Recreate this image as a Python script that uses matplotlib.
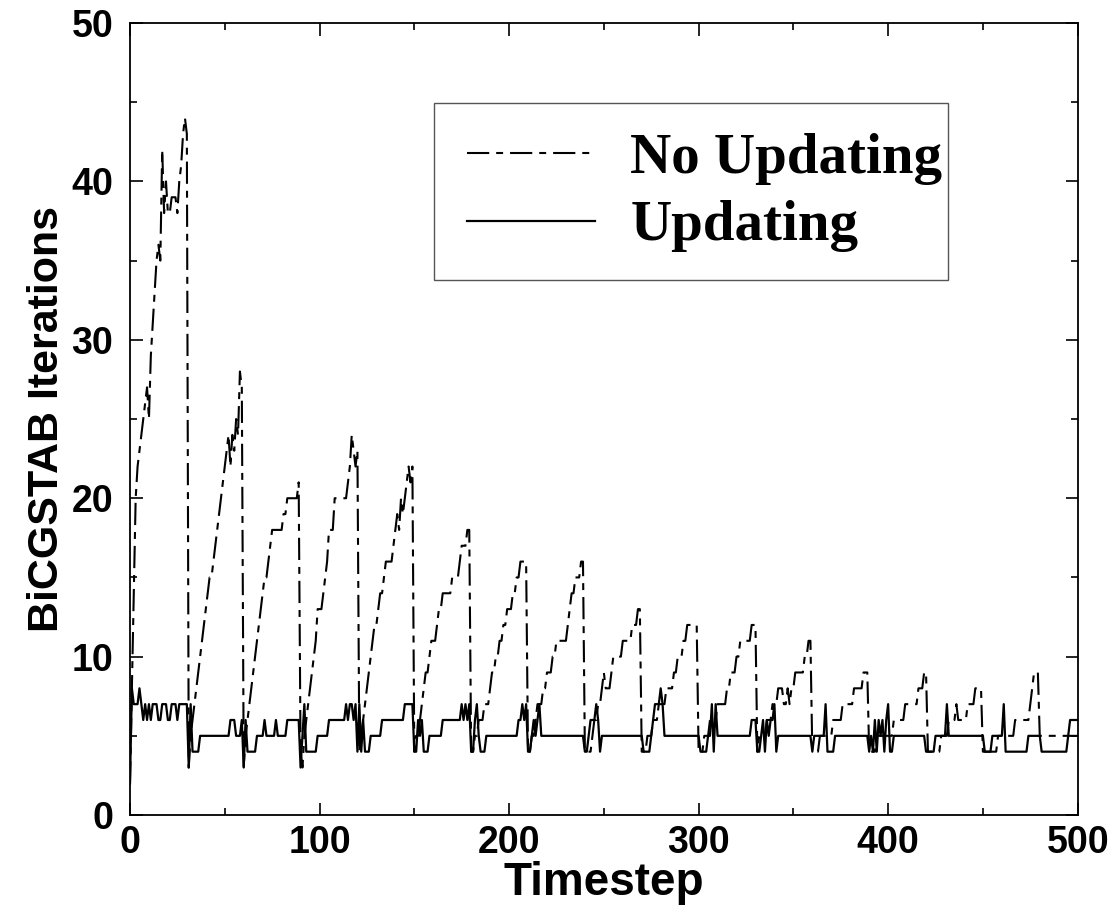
import numpy as np
import matplotlib
matplotlib.use('Agg')
import matplotlib.pyplot as plt
from matplotlib.patches import Rectangle

# BiCGSTAB iterations per timestep (t = 0..500)
no_updating = [
    2, 8, 14, 20, 22, 23, 24, 25, 26, 27, 25, 29, 31, 33, 35, 36, 35, 42, 38, 40, 38, 38, 39, 39, 39, 38, 40, 41, 43, 44,
    43, 3, 5, 6, 7, 8, 9, 10, 11, 12, 13, 14, 15, 15, 16, 17, 18, 19, 20, 21, 22, 23, 24, 22, 24, 23, 25, 24, 28, 27,
    3, 5, 6, 7, 8, 9, 10, 11, 12, 13, 14, 15, 15, 16, 17, 18, 18, 18, 18, 18, 18, 19, 19, 20, 20, 20, 20, 20, 20, 21,
    4, 3, 5, 6, 7, 8, 9, 10, 11, 13, 13, 13, 14, 15, 16, 18, 18, 18, 20, 20, 20, 20, 20, 20, 20, 21, 22, 24, 23, 22,
    23, 4, 5, 6, 7, 8, 9, 10, 11, 12, 12, 13, 14, 14, 15, 16, 16, 16, 16, 17, 18, 19, 18, 20, 19, 20, 21, 22, 21, 22,
    4, 5, 5, 6, 7, 8, 9, 9, 10, 11, 11, 11, 12, 13, 13, 14, 14, 14, 14, 14, 15, 15, 15, 15, 16, 17, 17, 17, 18, 18,
    4, 4, 5, 5, 6, 6, 6, 7, 7, 7, 8, 9, 9, 10, 10, 11, 11, 12, 12, 13, 13, 13, 14, 14, 15, 15, 16, 16, 16, 16,
    4, 4, 5, 5, 6, 7, 7, 7, 8, 8, 9, 9, 9, 10, 10, 11, 11, 11, 11, 11, 11, 12, 13, 14, 14, 15, 15, 15, 16, 16,
    4, 4, 4, 4, 5, 6, 6, 7, 7, 8, 9, 8, 8, 8, 9, 10, 10, 10, 10, 10, 11, 11, 11, 11, 11, 12, 12, 12, 13, 13,
    4, 4, 4, 5, 5, 5, 6, 6, 6, 7, 7, 7, 7, 8, 8, 8, 8, 9, 9, 10, 10, 10, 11, 11, 12, 12, 12, 12, 12, 12,
    4, 4, 4, 5, 5, 5, 6, 6, 6, 6, 7, 7, 7, 7, 7, 8, 8, 9, 9, 9, 10, 10, 11, 11, 11, 11, 11, 11, 12, 12,
    12, 4, 5, 5, 5, 5, 6, 6, 6, 7, 7, 7, 8, 8, 8, 7, 7, 8, 7, 8, 8, 9, 9, 9, 9, 9, 10, 10, 11, 11,
    4, 4, 4, 4, 5, 5, 5, 5, 5, 5, 5, 6, 6, 6, 6, 6, 7, 7, 7, 7, 7, 7, 8, 8, 8, 8, 8, 9, 9, 9,
    4, 4, 4, 4, 5, 5, 5, 5, 5, 5, 5, 5, 5, 6, 6, 6, 6, 6, 6, 7, 7, 7, 7, 7, 7, 7, 8, 8, 8, 9,
    9, 4, 4, 4, 4, 4, 4, 4, 5, 5, 5, 5, 6, 6, 6, 6, 7, 6, 6, 6, 6, 6, 7, 7, 7, 7, 8, 8, 8, 8,
    4, 4, 4, 4, 4, 4, 4, 4, 5, 5, 5, 5, 5, 5, 5, 5, 5, 6, 6, 6, 6, 6, 6, 6, 6, 7, 8, 9, 9, 9,
    5, 5, 5, 5, 5, 5, 5, 5, 5, 5, 5, 5, 5, 5, 5, 5, 5, 5, 5, 5, 5,
]

updating = [
    2, 8, 7, 7, 7, 8, 7, 6, 7, 6, 7, 6, 7, 7, 7, 6, 6, 7, 7, 7, 6, 6, 7, 7, 7, 6, 7, 7, 7, 7,
    7, 3, 7, 4, 4, 4, 4, 5, 5, 5, 5, 5, 5, 5, 5, 5, 5, 5, 5, 5, 5, 5, 5, 6, 6, 6, 5, 5, 5, 6,
    3, 6, 4, 4, 4, 4, 4, 5, 5, 5, 5, 6, 5, 5, 5, 5, 5, 6, 5, 5, 5, 5, 5, 6, 6, 6, 6, 6, 6, 6,
    3, 5, 7, 4, 4, 4, 4, 4, 4, 5, 5, 5, 5, 5, 5, 6, 6, 6, 6, 6, 6, 6, 6, 6, 7, 6, 7, 7, 6, 7,
    4, 7, 4, 6, 4, 4, 4, 5, 5, 5, 5, 5, 5, 6, 6, 6, 6, 6, 6, 6, 6, 6, 6, 6, 6, 7, 7, 7, 7, 7,
    4, 4, 6, 5, 6, 4, 4, 4, 5, 5, 5, 5, 5, 5, 5, 6, 6, 6, 6, 6, 6, 6, 6, 6, 6, 7, 6, 7, 6, 7,
    4, 4, 6, 7, 5, 4, 4, 4, 5, 5, 5, 5, 5, 5, 5, 5, 5, 5, 5, 5, 5, 5, 5, 5, 5, 6, 6, 7, 6, 7,
    4, 4, 5, 6, 5, 6, 7, 5, 5, 5, 5, 5, 5, 5, 5, 5, 5, 5, 5, 5, 5, 5, 5, 5, 5, 5, 5, 5, 5, 5,
    4, 4, 5, 6, 6, 6, 7, 6, 4, 5, 5, 5, 5, 5, 5, 5, 5, 5, 5, 5, 5, 5, 5, 5, 5, 5, 5, 5, 5, 5,
    5, 4, 4, 4, 4, 5, 6, 7, 7, 7, 8, 7, 5, 5, 5, 5, 5, 5, 5, 5, 5, 5, 5, 5, 5, 5, 5, 5, 5, 5,
    5, 4, 4, 4, 4, 5, 5, 7, 4, 7, 5, 5, 5, 5, 5, 5, 5, 5, 5, 5, 5, 5, 5, 5, 5, 5, 5, 5, 6, 6,
    6, 4, 4, 5, 6, 4, 6, 5, 6, 6, 7, 4, 5, 5, 5, 5, 5, 5, 5, 5, 5, 5, 5, 5, 5, 5, 5, 5, 5, 5,
    4, 5, 5, 5, 5, 5, 5, 7, 4, 4, 4, 4, 5, 5, 5, 5, 5, 5, 5, 5, 5, 5, 5, 5, 5, 5, 5, 5, 5, 5,
    4, 5, 4, 6, 4, 6, 5, 6, 4, 6, 7, 4, 4, 5, 5, 5, 5, 5, 5, 5, 5, 5, 5, 5, 5, 5, 5, 5, 5, 5,
    4, 4, 4, 4, 4, 5, 5, 5, 5, 5, 5, 7, 5, 5, 5, 5, 5, 5, 5, 5, 5, 5, 5, 5, 5, 5, 5, 5, 5, 5,
    5, 4, 4, 4, 4, 5, 5, 5, 5, 5, 5, 7, 4, 4, 4, 4, 4, 4, 4, 4, 4, 4, 4, 4, 5, 5, 5, 5, 5, 5,
    5, 4, 4, 4, 4, 4, 4, 4, 4, 4, 4, 4, 4, 4, 4, 5, 6, 6, 6, 6, 6,
]

timestep = np.arange(len(updating))

plt.rcParams['lines.scale_dashes'] = False

fig = plt.figure(figsize=(11.11, 9.06), dpi=100)
ax = fig.add_axes([0.117, 0.1004, 0.853, 0.8742])

ax.plot(timestep, no_updating, color='black', lw=1.5, dashes=(16, 5, 5, 5), label='No Updating')
ax.plot(timestep, updating, color='black', lw=1.6, label='Updating')

ax.set_xlim(0, 500)
ax.set_ylim(0, 50)
ax.set_xticks(np.arange(0, 501, 100))
ax.set_xticks(np.arange(0, 501, 50), minor=True)
ax.set_yticks(np.arange(0, 51, 10))
ax.set_yticks(np.arange(0, 51, 5), minor=True)

ax.tick_params(which='both', direction='in', top=True, right=True, width=1.2)
ax.tick_params(which='major', length=9)
ax.tick_params(which='minor', length=5)
ax.tick_params(axis='x', which='major', pad=7)
ax.tick_params(axis='y', which='major', pad=12)
for lab in ax.get_xticklabels() + ax.get_yticklabels():
    lab.set_fontfamily('Liberation Sans')
    lab.set_fontweight('bold')
    lab.set_fontsize(27)
for sp in ax.spines.values():
    sp.set_linewidth(1.3)

ax.set_xlabel('Timestep', fontfamily='Liberation Sans', fontweight='bold', fontsize=33, labelpad=0)
ax.set_ylabel('BiCGSTAB Iterations', fontfamily='Liberation Sans', fontweight='bold', fontsize=31, labelpad=3)

# legend frame drawn separately so the box matches the original proportions
box = Rectangle((0.3207, 0.6755), 0.5422, 0.2235, transform=ax.transAxes,
                facecolor='white', edgecolor='#555555', lw=1.0, zorder=4)
ax.add_patch(box)
leg = ax.legend(loc='upper left', bbox_to_anchor=(0.3555, 0.861), frameon=False,
                handlelength=2.25, handletextpad=0.62, labelspacing=0.27,
                borderpad=0, borderaxespad=0,
                prop={'family': 'Liberation Serif', 'weight': 'bold', 'size': 41})
leg.set_zorder(5)

fig.savefig('out.png', dpi=100)
